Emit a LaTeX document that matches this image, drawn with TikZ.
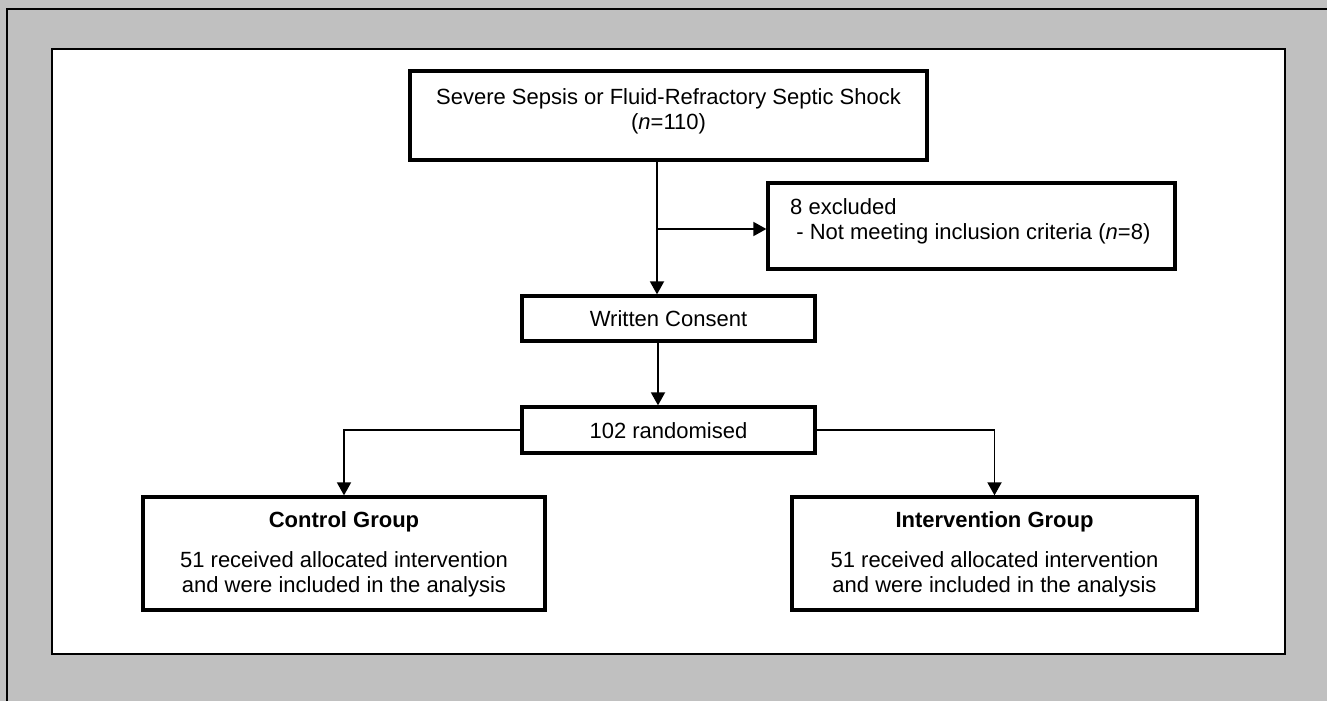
\documentclass[tikz,border=0pt]{standalone}
\usepackage{fontspec}
\setmainfont{Liberation Sans}
\usetikzlibrary{arrows.meta}
\definecolor{bggray}{HTML}{C0C0C0}
\begin{document}
\begin{tikzpicture}[x=1pt,y=-1pt,
  box/.style={draw=black,line width=3.3pt,fill=white,inner sep=0pt},
  txt/.style={inner sep=0pt,align=center,font=\fontsize{22}{25}\selectfont},
  ltxt/.style={inner sep=0pt,align=left,font=\fontsize{22}{25}\selectfont},
  conn/.style={line width=1.8pt,-{Triangle[length=13pt,width=14pt]}}]
\useasboundingbox (0,0) rectangle (1327,701);
% background frame
\fill[bggray] (0,0) rectangle (1327,701);
\draw[line width=2pt] (7,701) -- (7,9) -- (1327,9);
\draw[line width=2.5pt,fill=white] (52,49) rectangle (1285,654);
% boxes
\node[box,minimum width=517pt,minimum height=89pt] (top) at (668.5,115.5) {};
\node[txt] (toptxt) at (668.5,111) {Severe Sepsis or Fluid-Refractory Septic Shock\\(\textit{n}=110)};
\node[box,minimum width=407pt,minimum height=86pt] (excl) at (971.5,226) {};
\node[ltxt,anchor=west] (excltxt) at (790,221) {8 excluded\\\mbox{}\hspace{0.28em}- Not meeting inclusion criteria (\textit{n}=8)};
\node[box,minimum width=293pt,minimum height=45pt] (wc) at (668.5,318.5) {};
\node[txt] (wctxt) at (668.5,318.5) {Written Consent};
\node[box,minimum width=293pt,minimum height=46pt] (rand) at (668.5,430) {};
\node[txt] (randtxt) at (668.5,431) {102 randomised};
\node[box,minimum width=402pt,minimum height=113pt] (ctrl) at (344,553.5) {};
\node[txt] (ctrltitle) at (344,522) {\textbf{Control Group}};
\node[txt] (ctrltxt) at (344,574) {51 received allocated intervention\\and were included in the analysis};
\node[box,minimum width=405pt,minimum height=113pt] (intv) at (994.5,553.5) {};
\node[txt] (intvtitle) at (994.5,522) {\textbf{Intervention Group}};
\node[txt] (intvtxt) at (994.5,574) {51 received allocated intervention\\and were included in the analysis};
% connectors
\draw[conn] ([xshift=-11.5pt]top.south) -- ([xshift=-11.5pt]wc.north);
\draw[conn] ([xshift=-11.5pt,yshift=-3pt]top.south |- excl.west) -- ([yshift=-3pt]excl.west);
\draw[conn] ([xshift=-10.5pt]wc.south) -- ([xshift=-10.5pt]rand.north);
\draw[conn] (rand.west) -| (ctrl.north);
\draw[conn] (rand.east) -| (intv.north);
\end{tikzpicture}
\end{document}
